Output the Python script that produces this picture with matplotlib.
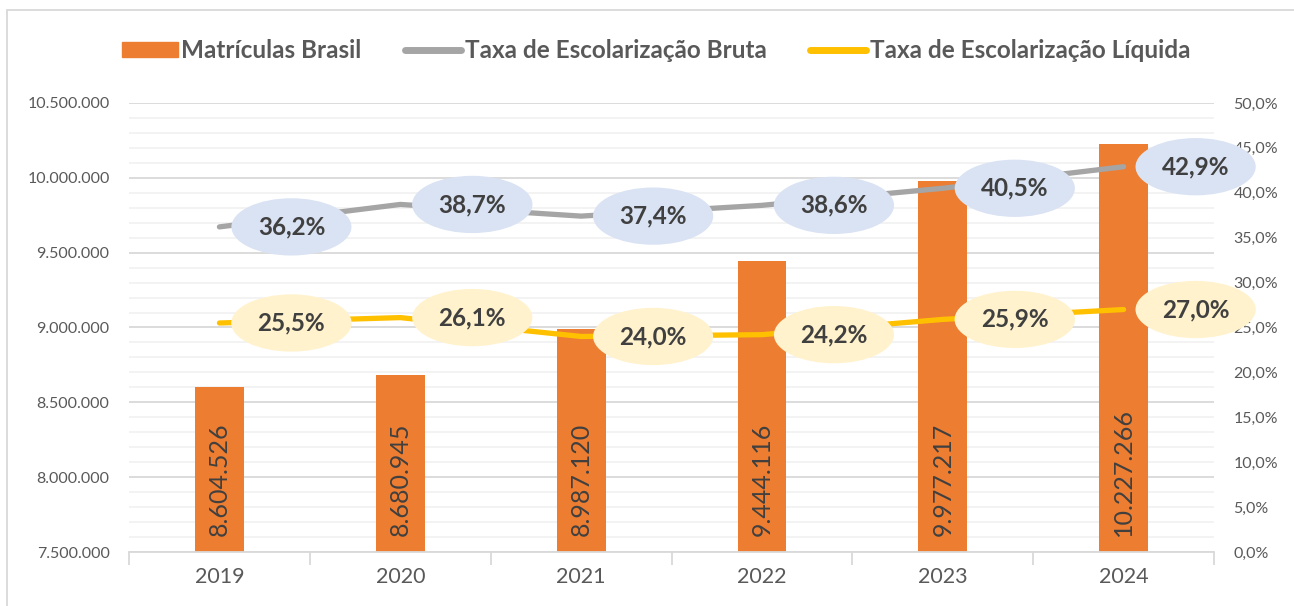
import numpy as np
import matplotlib
matplotlib.use("Agg")
import matplotlib.pyplot as plt
from matplotlib.patches import Patch, Rectangle
from matplotlib.lines import Line2D
from matplotlib.ticker import MultipleLocator, FuncFormatter

plt.rcParams["font.family"] = ["Lato", "DejaVu Sans"]

# data
anos = ["2019", "2020", "2021", "2022", "2023", "2024"]
matriculas = [8604526, 8680945, 8987120, 9444116, 9977217, 10227266]
taxa_bruta = [36.2, 38.7, 37.4, 38.6, 40.5, 42.9]
taxa_liquida = [25.5, 26.1, 24.0, 24.2, 25.9, 27.0]

ORANGE = "#ED7D31"
GRAY = "#A5A5A5"
YELLOW = "#FFC000"
TXT = "#404040"
TICK = "#595959"


def br_int(v):
    return f"{int(round(v)):,}".replace(",", ".")


def br_pct(v):
    return f"{v:.1f}%".replace(".", ",")


fig = plt.figure(figsize=(12.94, 6.06), dpi=100)
ax = fig.add_axes([0.0997, 0.0891, 0.8385, 0.741])
ax2 = ax.twinx()

x = np.arange(len(anos))

# bars
ax.bar(x, matriculas, width=0.27, color=ORANGE, zorder=2)
for i, v in enumerate(matriculas):
    ax.text(i, 7500000 + 110000, br_int(v), rotation=90, ha="center", va="bottom",
            fontsize=18, color=TXT, zorder=3)

ax.set_ylim(7500000, 10500000)
ax.yaxis.set_major_locator(MultipleLocator(500000))
ax.yaxis.set_minor_locator(MultipleLocator(100000))
ax.yaxis.set_major_formatter(FuncFormatter(lambda v, p: br_int(v)))
ax.grid(axis="y", which="major", color="#D9D9D9", lw=1.3, zorder=0)
ax.grid(axis="y", which="minor", color="#F2F2F2", lw=1.3, zorder=0)
ax.set_axisbelow(True)
ax.tick_params(axis="y", which="both", length=0, labelsize=11.5, labelcolor=TICK, pad=14)

ax.set_xlim(-0.5, len(anos) - 0.5)
ax.set_xticks(np.arange(-0.5, len(anos)))
ax.set_xticklabels([])
ax.set_xticks(x, minor=True)
ax.set_xticklabels(anos, minor=True)
ax.tick_params(axis="x", which="major", length=9, color="#D9D9D9", width=1.3)
ax.tick_params(axis="x", which="minor", length=0, labelsize=15.5, labelcolor=TICK, pad=11)

for s in ["top", "left", "right"]:
    ax.spines[s].set_visible(False)
    ax2.spines[s].set_visible(False)
ax.spines["bottom"].set_color("#D9D9D9")
ax.spines["bottom"].set_linewidth(1.3)
ax2.spines["bottom"].set_visible(False)

# lines
ax2.plot(x, taxa_bruta, color=GRAY, lw=3.8, solid_capstyle="round", zorder=3)
ax2.plot(x, taxa_liquida, color=YELLOW, lw=3.8, solid_capstyle="round", zorder=3)
for i in x:
    ax2.annotate(br_pct(taxa_bruta[i]), (i, taxa_bruta[i]), xytext=(72, 0),
                 textcoords="offset pixels", ha="center", va="center",
                 fontsize=17.5, fontweight="bold", color=TXT, zorder=4,
                 bbox=dict(boxstyle="ellipse,pad=0.36", fc="#DAE3F3", ec="none"))
    ax2.annotate(br_pct(taxa_liquida[i]), (i, taxa_liquida[i]), xytext=(72, 0),
                 textcoords="offset pixels", ha="center", va="center",
                 fontsize=17.5, fontweight="bold", color=TXT, zorder=4,
                 bbox=dict(boxstyle="ellipse,pad=0.36", fc="#FFF2CC", ec="none"))

ax2.set_ylim(0, 50)
ax2.yaxis.set_major_locator(MultipleLocator(5))
ax2.yaxis.set_major_formatter(FuncFormatter(lambda v, p: br_pct(v)))
ax2.tick_params(axis="y", length=0, labelsize=11.5, labelcolor=TICK, pad=14)

# legend
handles = [
    Patch(color=ORANGE),
    Line2D([0], [0], color=GRAY, lw=5, solid_capstyle="round"),
    Line2D([0], [0], color=YELLOW, lw=5, solid_capstyle="round"),
]
labels = ["Matrículas Brasil", "Taxa de Escolarização Bruta", "Taxa de Escolarização Líquida"]
leg = fig.legend(handles, labels, loc="center", bbox_to_anchor=(0.507, 0.917), ncol=3,
                 frameon=False, prop=dict(size=17.5, weight="bold"), handlelength=2.3,
                 handletextpad=0.15, columnspacing=1.8, handleheight=0.55)
for t in leg.get_texts():
    t.set_color(TICK)

# outer border
fig.patches.append(Rectangle((7 / 1294, -0.02), 1.0, 1 - 10 / 606 + 0.02,
                             transform=fig.transFigure, fill=False, ec="#D9D9D9", lw=1.3))

fig.savefig("out.png", dpi=100)
